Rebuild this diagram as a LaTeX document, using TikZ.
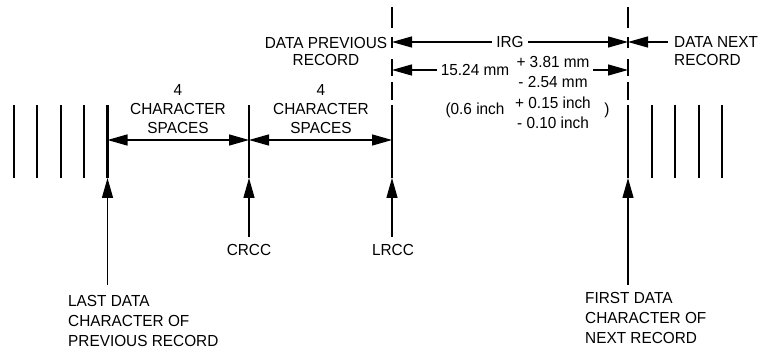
\documentclass[tikz,border=0pt]{standalone}
\usepackage{fontspec}
\setmainfont{Liberation Sans}[FakeStretch=0.96]
\usetikzlibrary{arrows.meta}
\tikzset{
  bar/.style={line width=2.8pt},
  dim/.style={line width=1.3pt},
  gapline/.style={line width=1.2pt, dash pattern=on 21pt off 9pt on 11pt off 11pt on 17pt off 6pt on 18pt off 100pt},
  >={Triangle[length=20pt,width=11pt]},
  lbl/.style={inner sep=0pt, font=\fontsize{16}{19}\selectfont},
}
\begin{document}
\begin{tikzpicture}[x=1pt,y=-1pt]
\useasboundingbox (0,0) rectangle (762,352);
% bars
\foreach \n/\x in {a/14,b/37,c/61,d/84,e/107.5,crcc/249,lrcc/392,f/628,g/652,h/675,i/699,j/722}{
  \coordinate (\n-top) at (\x,105);
  \coordinate (\n-bot) at (\x,178);
  \draw[bar] (\n-top) -- (\n-bot);
}
% broken lines above LRCC and first data bar
\coordinate (pl-top) at (392,7);
\coordinate (pl-bot) at (392,100);
\coordinate (nl-top) at (628,7);
\coordinate (nl-bot) at (628,100);
\draw[gapline] (pl-top) -- (pl-bot);
\draw[gapline] (nl-top) -- (nl-bot);
% 4 character spaces
\coordinate (cs1) at (107.5,140);
\coordinate (cs2) at (249,140);
\coordinate (cs3) at (392,140);
\draw[dim,<->] (cs1) -- (cs2);
\draw[dim,<->] (cs2) -- (cs3);
\node[lbl, align=center] (sp1) at (178,109) {4\\CHARACTER\\SPACES};
\node[lbl, align=center] (sp2) at (321,109) {4\\CHARACTER\\SPACES};
% IRG
\coordinate (irgL) at (392,42);
\coordinate (irgR) at (628,42);
\draw[dim,<->] (irgL) -- node[fill=white, inner xsep=4pt, inner ysep=1pt, font=\fontsize{16}{19}\selectfont] (irg) {IRG} (irgR);
% data previous record
\node[lbl, align=center, font=\fontsize{16}{17}\selectfont] (dpr) at (326,51.5) {DATA PREVIOUS\\RECORD};
% data next record
\coordinate (dnA) at (668,42);
\draw[dim,->] (dnA) -- (irgR);
\node[lbl, align=left, anchor=west, font=\fontsize{16}{18}\selectfont] (dnr) at (674,51) {DATA NEXT\\RECORD};
% 15.24 mm dimension
\coordinate (mmL) at (392,70);
\coordinate (mmR) at (628,70);
\coordinate (mmB) at (593,70);
\node[lbl] (mm) at (475,70) {15.24 mm};
\draw[dim,->] ([xshift=-4pt]mm.west) -- (mmL);
\draw[dim,->] (mmB) -- (mmR);
\node[lbl] (mmp) at (553,62) {+ 3.81 mm};
\node[lbl] (mmm) at (553,82) {- 2.54 mm};
\node[lbl] (in) at (475,110) {(0.6 inch};
\node[lbl] (inp) at (553,103) {+ 0.15 inch};
\node[lbl] (inm) at (553,123) {- 0.10 inch};
\node[lbl] (inc) at (607,110) {)};
% pointer labels
\node[lbl] (crccl) at (249,250) {CRCC};
\node[lbl] (lrccl) at (393,250) {LRCC};
\coordinate (crccA) at (249,237);
\coordinate (lrccA) at (392,237);
\draw[dim,->] (crccA) -- (crcc-bot);
\draw[dim,->] (lrccA) -- (lrcc-bot);
\node[lbl, align=left, anchor=west, font=\fontsize{16}{20}\selectfont] (last) at (68,321) {LAST DATA\\CHARACTER OF\\PREVIOUS RECORD};
\node[lbl, align=left, anchor=west, font=\fontsize{16}{20}\selectfont] (first) at (585,318) {FIRST DATA\\CHARACTER OF\\NEXT RECORD};
\coordinate (lastA) at (107.5,285);
\coordinate (firstA) at (628,285);
\draw[dim,->] (lastA) -- (e-bot);
\draw[dim,->] (firstA) -- (f-bot);
\end{tikzpicture}
\end{document}
